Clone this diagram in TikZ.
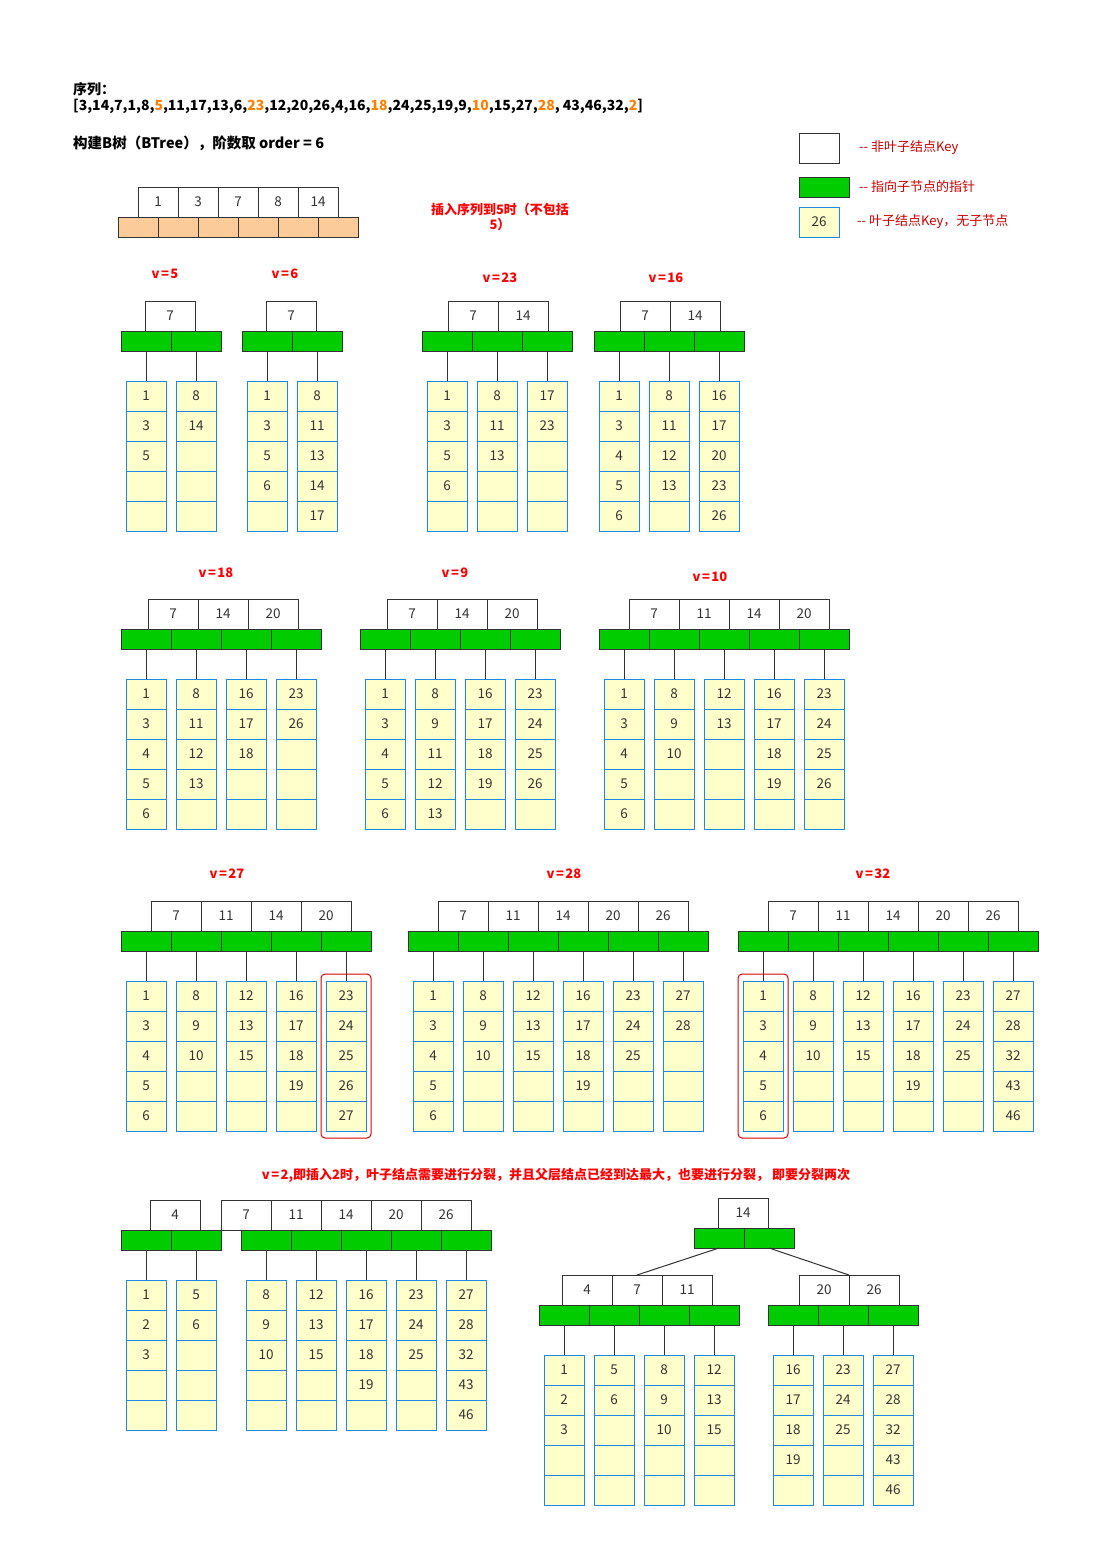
\documentclass[tikz,border=0pt]{standalone}
\usepackage{fontspec}
\setmainfont{Noto Sans CJK SC}
\usepackage{xcolor}
\usetikzlibrary{positioning,fit}

\definecolor{linegray}{RGB}{51,51,51}
\definecolor{ptrgreen}{RGB}{0,204,0}
\definecolor{leafblue}{RGB}{30,136,229}
\definecolor{leafyellow}{RGB}{255,255,204}
\definecolor{peach}{RGB}{251,204,153}
\definecolor{seqorange}{RGB}{255,128,0}
\definecolor{notered}{RGB}{204,0,0}

\newcommand{\seqhl}[1]{\textcolor{seqorange}{#1}}
\newcommand{\veq}[1]{v\kern1.5pt=\kern1.5pt#1}

% one B-tree: name, pointer-row left x, key-row left x, key-row top y, keys, leaves
\newcommand{\btree}[6]{%
  \foreach \k [count=\i] in {#5}
    \node[keycell] (#1k\i) at ({#3+50*\i-25},{#4+15}) {\k};
  \foreach \leafkeys [count=\j] in {#6} {
    \node[ptrcell] (#1p\j) at ({#2+50*\j-25},{#4+40}) {};
    \foreach \k [count=\i] in \leafkeys
      \node[leafcell] (#1l\j-\i) at ({#2+50*\j-25},{#4+80+30*\i-15}) {\k};
    \draw[link] (#1l\j-1.north) -- (#1l\j-1.north |- #1p\j.south);
  }}

\tikzset{
  cellbase/.style={inner sep=0pt, outer sep=0pt, line width=1pt, text=linegray,
    font=\fontsize{13.5}{15}\selectfont},
  keycell/.style={cellbase, draw=linegray, fill=white, minimum width=50pt, minimum height=30pt},
  ptrcell/.style={cellbase, draw=linegray, fill=ptrgreen, minimum width=50pt, minimum height=20pt},
  leafcell/.style={cellbase, draw=leafblue, fill=leafyellow, minimum width=40pt, minimum height=30pt},
  link/.style={draw=linegray, line width=1pt},
  vlabel/.style={inner sep=0pt, text=red, font=\bfseries\fontsize{13}{15}\selectfont},
  titletext/.style={inner sep=0pt, anchor=west, text=black, font=\bfseries\fontsize{14}{17}\selectfont},
  legendtext/.style={inner sep=0pt, text=notered, font=\fontsize{13}{15}\selectfont},
  hilite/.style={draw=red!85!black, rounded corners=4pt, line width=1pt, inner xsep=5pt, inner ysep=7pt},
}

\begin{document}
\begin{tikzpicture}[x=1pt, y=-1pt]
  \useasboundingbox[fill=white] (0,0) rectangle (1098,1566);

  % heading
  \node[titletext] (seqhead) at (73,89) {序列：};
  \node[titletext] (seq) at (73,106) {[3,14,7,1,8,\seqhl{5},11,17,13,6,\seqhl{23},12,20,26,4,16,\seqhl{18},24,25,19,9,\seqhl{10},15,27,\seqhl{28}, 43,46,32,\seqhl{2}]};
  \node[titletext, font=\bfseries\fontsize{14.5}{17}\selectfont] (order) at (73,143) {构建B树（BTree），阶数取 order = 6};

  % legend
  \node[keycell, minimum width=40pt] (lg1) at (819,148) {};
  \node[ptrcell] (lg2) at (824,187) {};
  \node[leafcell] (lg3) at (819,222) {26};
  \node[legendtext, right=20pt of lg1] (lt1) {-{}- 非叶子结点Key};
  \node[legendtext, right=10pt of lg2] (lt2) {-{}- 指向子节点的指针};
  \node[legendtext, right=18pt of lg3] (lt3) {-{}- 叶子结点Key，无子节点};

  % before 5: a single full node
  \foreach \k [count=\i] in {1,3,7,8,14}
    \node[keycell, minimum width=40pt] (k0-\i) at ({138+40*\i-20},202) {\k};
  \foreach \i in {1,...,6}
    \node[ptrcell, fill=peach, minimum width=40pt] (p0-\i) at ({118+40*\i-20},227) {};
  \node[vlabel, align=center] (note0) at (500,217) {插入序列到5时（不包括\\5）};

  % row 1
  \node[vlabel] (v5) at (165,274) {\veq{5}};
  \btree{t5}{121}{145}{301}{7}{{1,3,5,{},{}},{8,14,{},{},{}}}
  \node[vlabel] (v6) at (285,274) {\veq{6}};
  \btree{t6}{242}{266}{301}{7}{{1,3,5,6,{}},{8,11,13,14,17}}
  \node[vlabel] (v23) at (500,278) {\veq{23}};
  \btree{t23}{422}{448}{301}{7,14}{{1,3,5,6,{}},{8,11,13,{},{}},{17,23,{},{},{}}}
  \node[vlabel] (v16) at (666,278) {\veq{16}};
  \btree{t16}{594}{620}{301}{7,14}{{1,3,4,5,6},{8,11,12,13,{}},{16,17,20,23,26}}

  % row 2
  \node[vlabel] (v18) at (216,573) {\veq{18}};
  \btree{t18}{121}{148}{599}{7,14,20}{{1,3,4,5,6},{8,11,12,13,{}},{16,17,18,{},{}},{23,26,{},{},{}}}
  \node[vlabel] (v9) at (455,573) {\veq{9}};
  \btree{t9}{360}{387}{599}{7,14,20}{{1,3,4,5,6},{8,9,11,12,13},{16,17,18,19,{}},{23,24,25,26,{}}}
  \node[vlabel] (v10) at (710,577) {\veq{10}};
  \btree{t10}{599}{629}{599}{7,11,14,20}{{1,3,4,5,6},{8,9,10,{},{}},{12,13,{},{},{}},{16,17,18,19,{}},{23,24,25,26,{}}}

  % row 3
  \node[vlabel] (v27) at (227,874) {\veq{27}};
  \btree{t27}{121}{151}{901}{7,11,14,20}{{1,3,4,5,6},{8,9,10,{},{}},{12,13,15,{},{}},{16,17,18,19,{}},{23,24,25,26,27}}
  \node[hilite, fit=(t27l5-1)(t27l5-5)] (h27) {};
  \node[vlabel] (v28) at (564,874) {\veq{28}};
  \btree{t28}{408}{438}{901}{7,11,14,20,26}{{1,3,4,5,6},{8,9,10,{},{}},{12,13,15,{},{}},{16,17,18,19,{}},{23,24,25,{},{}},{27,28,{},{},{}}}
  \node[vlabel] (v32) at (873,874) {\veq{32}};
  \btree{t32}{738}{768}{901}{7,11,14,20,26}{{1,3,4,5,6},{8,9,10,{},{}},{12,13,15,{},{}},{16,17,18,19,{}},{23,24,25,{},{}},{27,28,32,43,46}}
  \node[hilite, fit=(t32l1-1)(t32l1-5)] (h32) {};

  % row 4: inserting 2 splits twice
  \node[vlabel] (v2) at (556,1175) {\veq{2},即插入2时，叶子结点需要进行分裂，并且父层结点已经到达最大，也要进行分裂， 即要分裂两次};
  \btree{sa}{121}{150}{1200}{4}{{1,2,3,{},{}},{5,6,{},{},{}}}
  \btree{sb}{241}{221}{1200}{7,11,14,20,26}{{8,9,10,{},{}},{12,13,15,{},{}},{16,17,18,19,{}},{23,24,25,{},{}},{27,28,32,43,46}}

  % new root after the second split
  \node[keycell] (rootk1) at (743,1213) {14};
  \node[ptrcell] (rootp1) at (719,1238) {};
  \node[ptrcell] (rootp2) at (769,1238) {};
  \btree{lc}{539}{562}{1275}{4,7,11}{{1,2,3,{},{}},{5,6,{},{},{}},{8,9,10,{},{}},{12,13,15,{},{}}}
  \btree{rc}{768}{799}{1275}{20,26}{{16,17,18,19,{}},{23,24,25,{},{}},{27,28,32,43,46}}
  \draw[link] (rootp1.south) -- (lck2.north);
  \draw[link] (rootp2.south) -- (rck1.north east);
\end{tikzpicture}
\end{document}
